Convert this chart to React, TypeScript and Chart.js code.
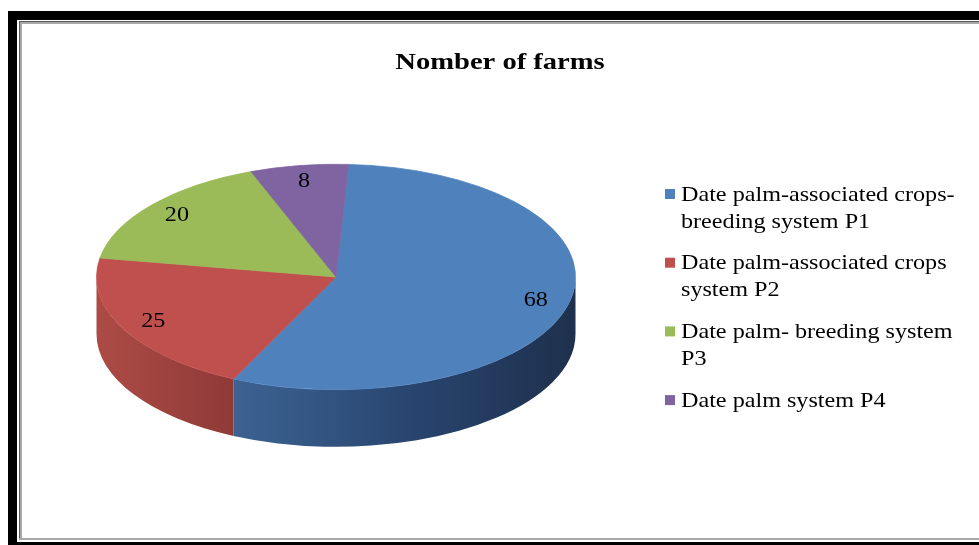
import React, { useEffect, useRef } from "react";
import { Chart, registerables } from "chart.js";

Chart.register(...registerables);

const TITLE = "Nomber of farms";
const labels = [
  "Date palm-associated crops-breeding system P1",
  "Date palm-associated crops system P2",
  "Date palm- breeding system P3",
  "Date palm system P4",
];
const values = [68, 25, 20, 8];
const colors = ["#4f81bd", "#c0504d", "#9bbb59", "#8064a2"];
const sideStops = [
  ["#4d76ab", "#3a5f8e", "#28446e", "#1e304c"],
  ["#ad4b46", "#8a3734", "#7a302d", "#6e2b29"],
  ["#84a04a", "#6f883d", "#5e7433", "#50632b"],
  ["#6c5589", "#5a4772", "#4c3c61", "#3f3250"],
];

const W = 979;
const H = 545;
const TILT = 113 / 240;
const DEPTH = 57;
const SX = 1.15;
const SERIF = "'Times New Roman', 'Liberation Serif', serif";

function drawText(ctx: CanvasRenderingContext2D, text: string, x: number, y: number) {
  ctx.save();
  ctx.translate(x, y);
  ctx.scale(SX, 1);
  ctx.fillText(text, 0, 0);
  ctx.restore();
}

const pie3d = {
  id: "pie3d",
  beforeDatasetsDraw(chart: any) {
    const ctx = chart.ctx;
    const meta = chart.getDatasetMeta(0);
    const first = meta.data[0];
    if (!first) return;
    const cx = first.x;
    const cy = first.y;
    const R = first.outerRadius;
    meta.data.forEach((arc: any, i: number) => {
      const s = arc.startAngle;
      const e = arc.endAngle;
      for (let k = -1; k <= 1; k++) {
        const lo = Math.max(s, 2 * Math.PI * k);
        const hi = Math.min(e, 2 * Math.PI * k + Math.PI);
        if (hi > lo) {
          const g = ctx.createLinearGradient(cx - R, 0, cx + R, 0);
          const st = sideStops[i];
          st.forEach((c: string, j: number) => g.addColorStop(j / (st.length - 1), c));
          ctx.save();
          ctx.beginPath();
          ctx.ellipse(cx, cy, R, R * TILT, 0, lo, hi, false);
          ctx.ellipse(cx, cy + DEPTH, R, R * TILT, 0, hi, lo, true);
          ctx.closePath();
          ctx.fillStyle = g;
          ctx.fill();
          ctx.restore();
        }
      }
    });
    ctx.save();
    ctx.translate(0, cy);
    ctx.scale(1, TILT);
    ctx.translate(0, -cy);
  },
  afterDatasetsDraw(chart: any) {
    const ctx = chart.ctx;
    ctx.restore();
    const meta = chart.getDatasetMeta(0);
    ctx.save();
    ctx.fillStyle = "#000";
    ctx.font = `21px ${SERIF}`;
    ctx.textAlign = "center";
    ctx.textBaseline = "middle";
    meta.data.forEach((arc: any, i: number) => {
      const mid = (arc.startAngle + arc.endAngle) / 2;
      const r = arc.outerRadius * 0.86;
      const x = arc.x + Math.cos(mid) * r;
      const y = arc.y + Math.sin(mid) * r * TILT;
      drawText(ctx, String(values[i]), x, y);
    });
    ctx.restore();
  },
};

function wrap(ctx: CanvasRenderingContext2D, text: string, maxW: number): string[] {
  const tokens = text.match(/[^\s-]+-?\s*|\s+/g) || [text];
  const lines: string[] = [];
  let cur = "";
  tokens.forEach((t) => {
    const test = cur + t;
    if (cur && ctx.measureText(test.trimEnd()).width * SX > maxW) {
      lines.push(cur.trimEnd());
      cur = t;
    } else {
      cur = test;
    }
  });
  if (cur) lines.push(cur.trimEnd());
  return lines;
}

const decorations = {
  id: "decorations",
  afterDraw(chart: any) {
    const ctx = chart.ctx;
    ctx.save();
    ctx.fillStyle = "#000";
    ctx.font = `bold 24px ${SERIF}`;
    ctx.textAlign = "center";
    ctx.textBaseline = "alphabetic";
    ctx.save();
    ctx.translate(500, 69);
    ctx.scale(1.19, 1);
    ctx.fillText(TITLE, 0, 0);
    ctx.restore();

    ctx.font = `21px ${SERIF}`;
    ctx.textAlign = "left";
    ctx.textBaseline = "middle";
    const step = 68.7;
    const lineH = 27;
    labels.forEach((lab, i) => {
      const y0 = 194 + i * step;
      ctx.fillStyle = colors[i];
      ctx.fillRect(665, y0 - 5, 10, 10);
      ctx.fillStyle = "#000";
      const lines = wrap(ctx, lab, 285);
      lines.forEach((ln, j) => drawText(ctx, ln, 681, y0 + 1 + j * lineH));
    });
    ctx.restore();
  },
};

export default function App() {
  const ref = useRef<HTMLCanvasElement | null>(null);
  useEffect(() => {
    if (!ref.current) return;
    const chart = new Chart(ref.current, {
      type: "pie",
      data: {
        labels,
        datasets: [
          {
            data: values,
            backgroundColor: colors,
            borderColor: colors,
            borderWidth: 1,
          },
        ],
      },
      options: {
        responsive: false,
        animation: false,
        events: [],
        rotation: 3,
        layout: { padding: { left: 96, right: W - 576, top: 37, bottom: H - 517 } },
        plugins: {
          legend: { display: false },
          tooltip: { enabled: false },
          title: { display: false },
        },
      },
      plugins: [pie3d, decorations],
    } as any);
    return () => chart.destroy();
  }, []);

  const box = (l: number, t: number, w: number, h: number, c: string) => (
    <div style={{ position: "absolute", left: l, top: t, width: w, height: h, background: c }} />
  );

  return (
    <div style={{ position: "fixed", left: 0, top: 0, width: W, height: H, background: "#fff", overflow: "hidden" }}>
      {box(8, 11, W - 8, 9, "#000")}
      {box(8, 11, 9, H - 11, "#000")}
      {box(17, 542, W - 17, 3, "#000")}
      {box(19, 21, W - 19, 1, "#5a5a5a")}
      {box(20, 22, W - 20, 2, "#a8a8a8")}
      {box(19, 21, 1, 519, "#5a5a5a")}
      {box(20, 22, 2, 518, "#a8a8a8")}
      {box(19, 538, W - 19, 2, "#a8a8a8")}
      <canvas ref={ref} width={W} height={H} style={{ position: "absolute", left: 0, top: 0, width: W, height: H }} />
    </div>
  );
}
